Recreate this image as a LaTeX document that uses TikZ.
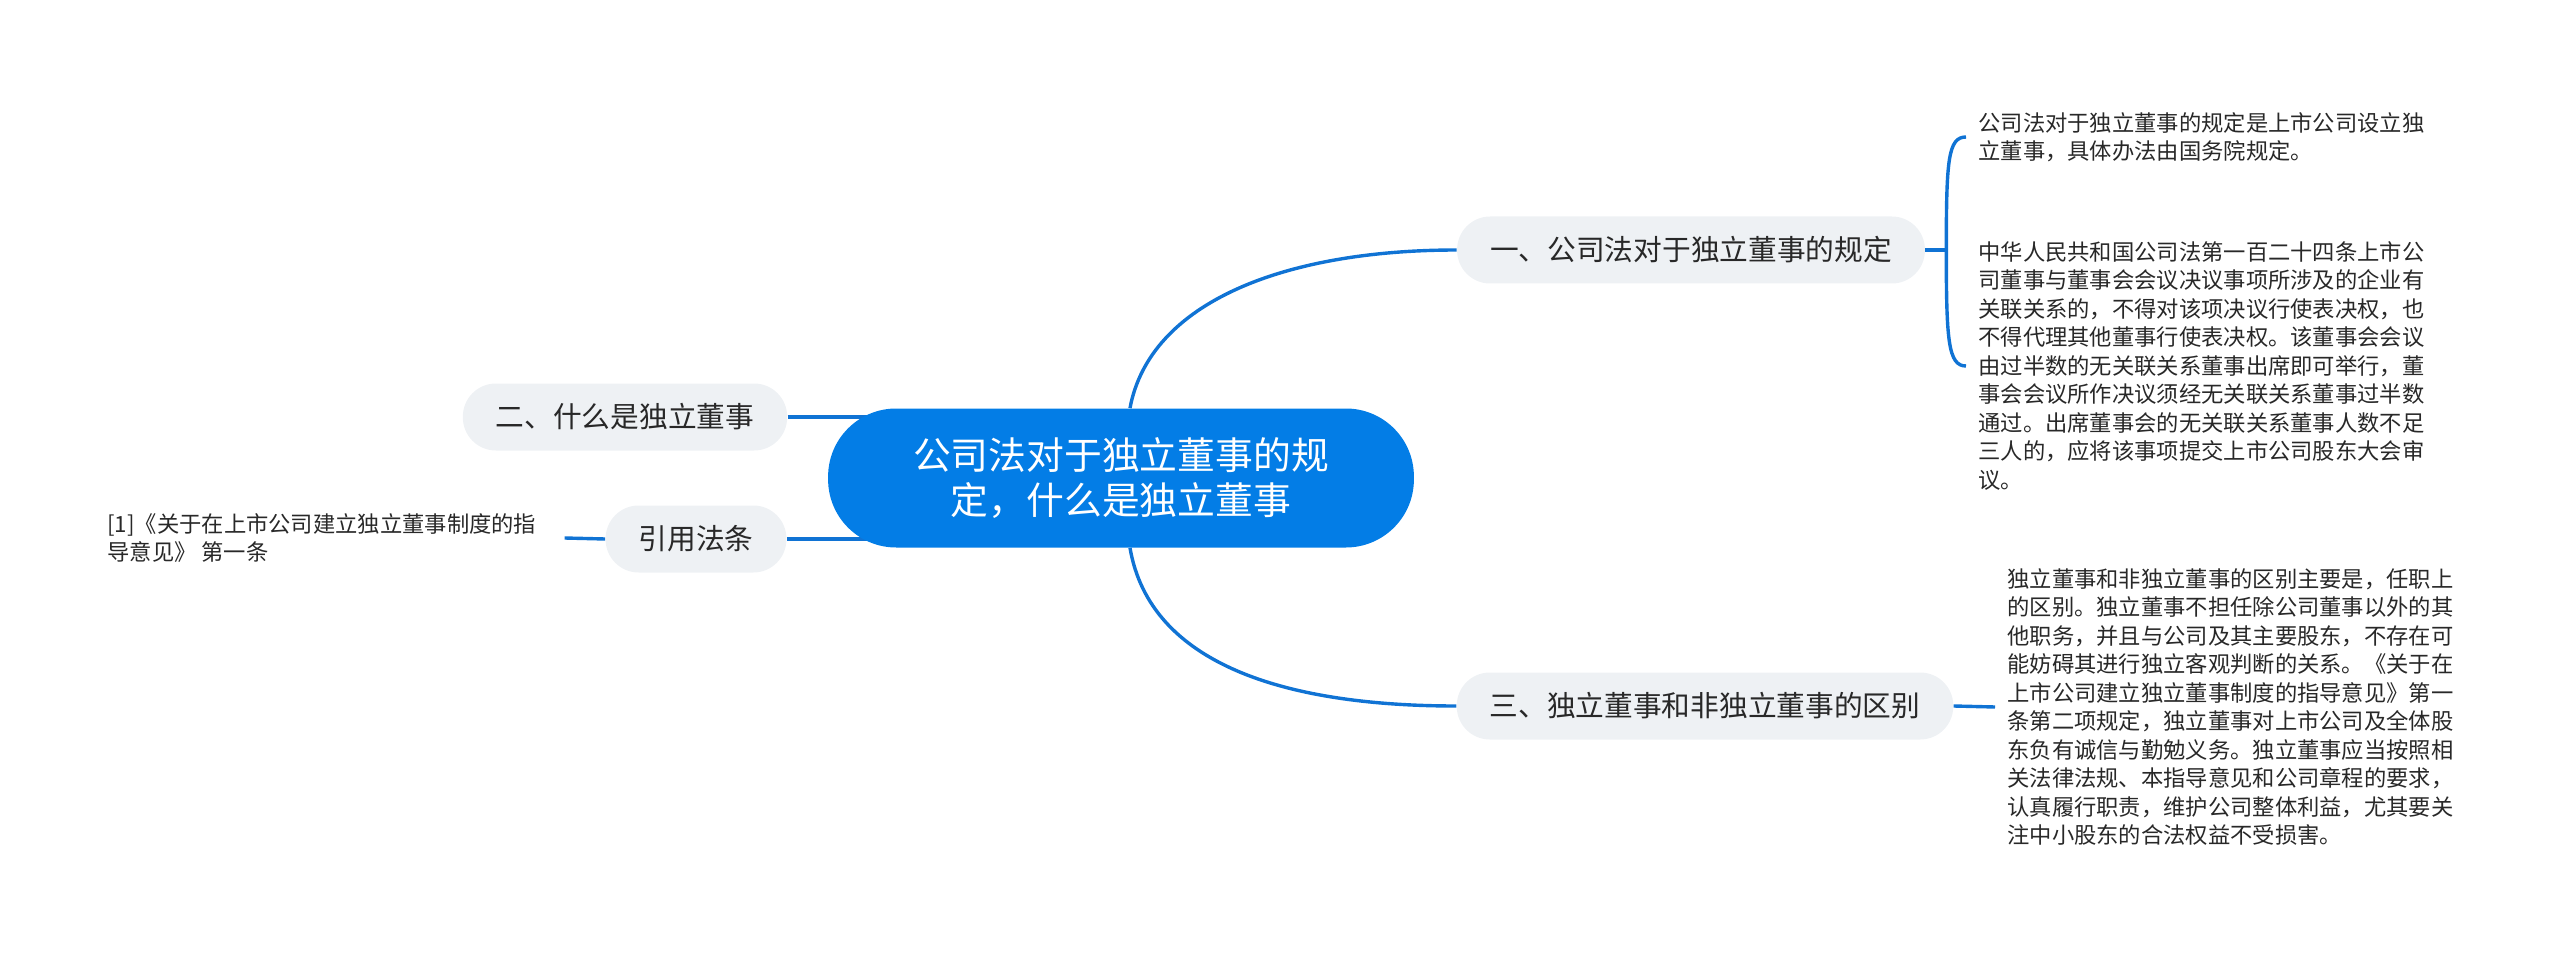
\documentclass[tikz,border=0pt]{standalone}
\usepackage{fontspec}
\setmainfont{Noto Sans CJK SC}
\usetikzlibrary{backgrounds}
\definecolor{mapblue}{RGB}{3,125,230}
\definecolor{linkblue}{RGB}{16,115,212}
\definecolor{subgray}{RGB}{238,241,244}
\definecolor{txtdark}{RGB}{40,40,40}
\tikzset{link/.style={draw=linkblue, line width=1.7pt},
  topic/.style={fill=mapblue, text=white, rounded corners=34pt, align=center, inner xsep=42.5pt, minimum height=69.5pt, font=\fontsize{18.9pt}{22.5pt}\selectfont},
  sub/.style={fill=subgray, text=txtdark, rounded corners=16.5pt, inner xsep=16.5pt, minimum height=33.5pt, font=\fontsize{14.35pt}{17pt}\selectfont},
  leaf/.style={anchor=west, inner sep=0pt, align=left, text=txtdark, font=\fontsize{11.15pt}{14.25pt}\selectfont}}

\begin{document}
\begin{tikzpicture}[x=0.5pt, y=-0.5pt]
  \useasboundingbox (0,0) rectangle (2560,957);
  % centre and branches
  \node[topic] (cen) at (1121,478) {公司法对于独立董事的规\\定，什么是独立董事};
  \node[sub] (b1) at (1691,250) {一、公司法对于独立董事的规定};
  \node[sub] (b3) at (1705,706) {三、独立董事和非独立董事的区别};
  \node[sub] (b2) at (625,417) {二、什么是独立董事};
  \node[sub] (ref) at (696,539) {引用法条};
  % leaves
  \node[leaf] (l1a) at (1978,137) {公司法对于独立董事的规定是上市公司设立独\\立董事，具体办法由国务院规定。};
  \node[leaf] (l1b) at (1978,366) {中华人民共和国公司法第一百二十四条上市公\\司董事与董事会会议决议事项所涉及的企业有\\关联关系的，不得对该项决议行使表决权，也\\不得代理其他董事行使表决权。该董事会会议\\由过半数的无关联关系董事出席即可举行，董\\事会会议所作决议须经无关联关系董事过半数\\通过。出席董事会的无关联关系董事人数不足\\三人的，应将该事项提交上市公司股东大会审\\议。};
  \node[leaf] (l3) at (2007,707) {独立董事和非独立董事的区别主要是，任职上\\的区别。独立董事不担任除公司董事以外的其\\他职务，并且与公司及其主要股东，不存在可\\能妨碍其进行独立客观判断的关系。《关于在\\上市公司建立独立董事制度的指导意见》第一\\条第二项规定，独立董事对上市公司及全体股\\东负有诚信与勤勉义务。独立董事应当按照相\\关法律法规、本指导意见和公司章程的要求，\\认真履行职责，维护公司整体利益，尤其要关\\注中小股东的合法权益不受损害。};
  \node[leaf] (cite) at (107,538) {[1]《关于在上市公司建立独立董事制度的指\\导意见》 第一条};
  % connectors
  \begin{scope}[on background layer]
    \draw[link] ([xshift=4.5pt]cen.north) .. controls +(20,-107) and +(-170,0) .. (b1.west);
    \draw[link] ([xshift=4.5pt]cen.south) .. controls +(20,117) and +(-170,0) .. (b3.west);
    \draw[link] (b2.east) -- (b2.east -| cen.center);
    \draw[link] (ref.east) -- (ref.east -| cen.center);
  \end{scope}
  \draw[link] (ref.west) -- ([xshift=14pt]cite.east);
  \draw[link] (b3.east) -- ([xshift=-6pt]l3.west);
  \draw[link] (b1.east) -- ++(10.5pt,0) coordinate (bk);
  \draw[link] (bk) .. controls +(0,-90) and +(-18,0) .. ([xshift=-6pt]l1a.west);
  \draw[link] (bk) .. controls +(0,90) and +(-18,0) .. ([xshift=-6pt]l1b.west);
\end{tikzpicture}
\end{document}
